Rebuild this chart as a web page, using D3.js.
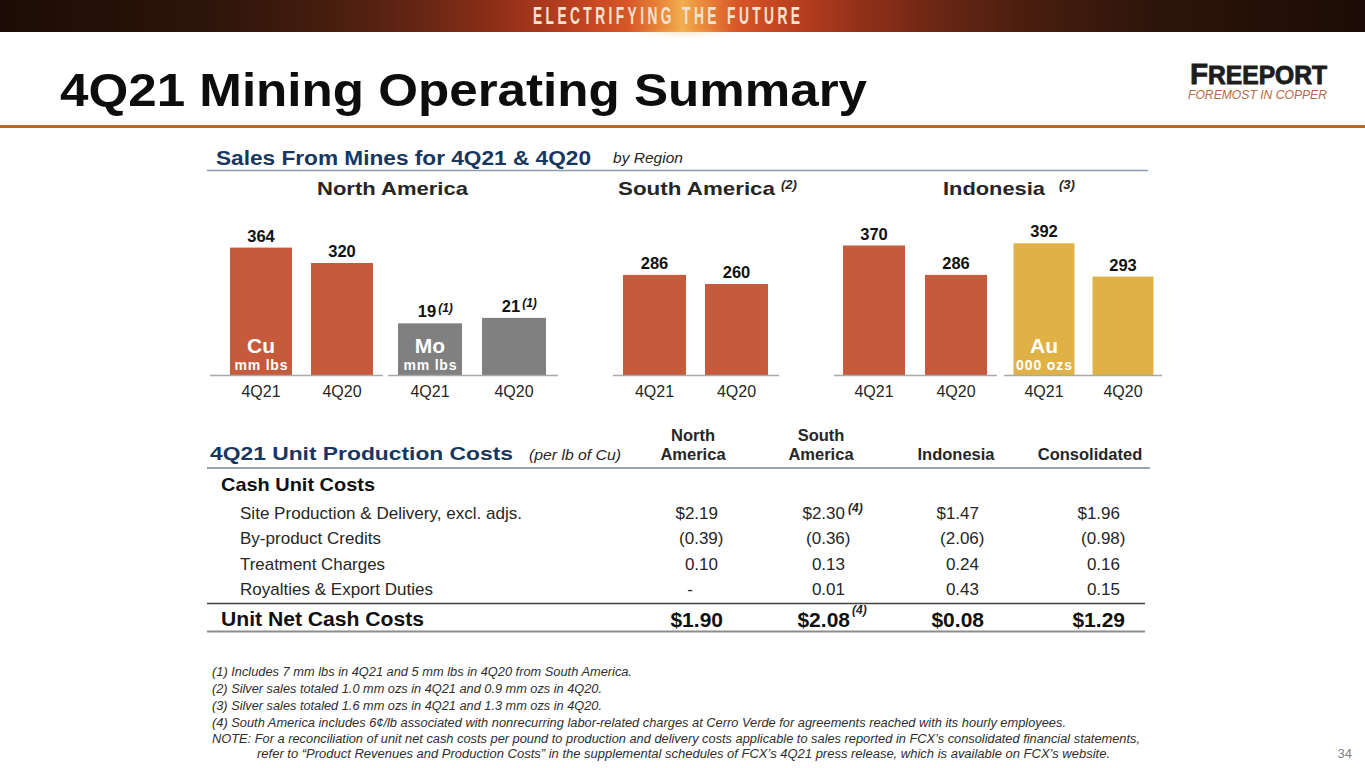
<!DOCTYPE html>
<html>
<head>
<meta charset="utf-8">
<script src="https://cdn.jsdelivr.net/npm/d3@7"></script>
<style>
  html, body { margin: 0; padding: 0; background: #fff; overflow: hidden; }
  svg { display: block; }
  text { font-family: "Liberation Sans", Arial, sans-serif; }
</style>
</head>
<body>
<svg id="chart" width="1365" height="768"></svg>
<script>
// ---------------- DATA ----------------
const periods = ["4Q21", "4Q20"];
const regionTitles = ["North America", "South America", "Indonesia"];
const regionNotes = ["", "(2)", "(3)"];
const naCopper = [364, 320];
const naMoly = [19, 21];
const saCopper = [286, 260];
const idCopper = [370, 286];
const idGold = [392, 293];

const costColumns = [["North", "America"], ["South", "America"], ["Indonesia"], ["Consolidated"]];
const costRowLabels = ["Site Production & Delivery, excl. adjs.", "By-product Credits", "Treatment Charges", "Royalties & Export Duties"];
const siteProduction = [2.19, 2.30, 1.47, 1.96];
const byproductCredits = [-0.39, -0.36, -2.06, -0.98];
const treatmentCharges = [0.10, 0.13, 0.24, 0.16];
const royaltiesDuties = [null, 0.01, 0.43, 0.15];
const unitNetCashCosts = [1.90, 2.08, 0.08, 1.29];

const footnotes = [
  "(1) Includes 7 mm lbs in 4Q21 and 5 mm lbs in 4Q20 from South America.",
  "(2) Silver sales totaled 1.0 mm ozs in 4Q21 and 0.9 mm ozs in 4Q20.",
  "(3) Silver sales totaled 1.6 mm ozs in 4Q21 and 1.3 mm ozs in 4Q20.",
  "(4) South America includes 6\u00A2/lb associated with nonrecurring labor-related charges at Cerro Verde for agreements reached with its hourly employees.",
  "NOTE: For a reconciliation of unit net cash costs per pound to production and delivery costs applicable to sales reported in FCX\u2019s consolidated financial statements,",
  "refer to \u201CProduct Revenues and Production Costs\u201D in the supplemental schedules of FCX\u2019s 4Q21 press release, which is available on FCX\u2019s website."
];

// ---------------- SETUP ----------------
const svg = d3.select("#chart");
const COPPER = "#C55B3C", MOLY = "#808080", GOLD = "#E0B245", NAVY = "#17375E", INK = "#262626";

function fit(sel, len, mode) {
  return sel.attr("textLength", len).attr("lengthAdjust", mode || "spacingAndGlyphs");
}

const defs = svg.append("defs");
const bg = defs.append("linearGradient").attr("id", "bannerGrad").attr("x1", "0").attr("x2", "1").attr("y1", "0").attr("y2", "0");
[[0, "#1C0C05"], [0.15, "#2C140A"], [0.24, "#461D0E"], [0.31, "#682614"], [0.37, "#933019"], [0.42, "#BC4020"], [0.46, "#D85628"], [0.49, "#EC9440"], [0.5, "#F2AE50"], [0.51, "#EC9440"], [0.54, "#D85628"], [0.58, "#BC4020"], [0.63, "#933019"], [0.69, "#682614"], [0.76, "#461D0E"], [0.85, "#2C140A"], [1, "#1C0C05"]]
  .forEach(([o, c]) => bg.append("stop").attr("offset", o).attr("stop-color", c));
const glow = defs.append("radialGradient").attr("id", "glow");
glow.append("stop").attr("offset", 0).attr("stop-color", "#F6C070").attr("stop-opacity", 0.8);
glow.append("stop").attr("offset", 1).attr("stop-color", "#F6C070").attr("stop-opacity", 0);

// ---------------- HEADER ----------------
svg.append("rect").attr("x", 0).attr("y", 0).attr("width", 1365).attr("height", 32).attr("fill", "url(#bannerGrad)");
svg.append("ellipse").attr("cx", 683).attr("cy", 33).attr("rx", 55).attr("ry", 5).attr("fill", "url(#glow)").attr("opacity", 0.35);
const bannerG = svg.append("g").attr("transform", "translate(533,24) scale(0.6,1)");
fit(bannerG.append("text").attr("x", 0).attr("y", 0)
  .style("font-size", "23px").style("font-weight", "bold").attr("fill", "#F4E2CF")
  .text("ELECTRIFYING THE FUTURE"), 267 / 0.6, "spacing");

fit(svg.append("text").attr("x", 60).attr("y", 106).style("font-size", "47px").style("font-weight", "bold").attr("fill", "#0D0D0D")
  .text("4Q21 Mining Operating Summary"), 807);

const logo = svg.append("text").attr("x", 1190).attr("y", 84)
  .style("font-weight", "bold").attr("fill", "#1E1E1E").attr("stroke", "#1E1E1E").attr("stroke-width", 0.9);
logo.append("tspan").style("font-size", "30px").text("F");
logo.append("tspan").style("font-size", "25px").text("REEPORT");
fit(logo, 137);
fit(svg.append("text").attr("x", 1188).attr("y", 99).style("font-size", "12.5px").style("font-style", "italic").attr("fill", "#B66A45")
  .text("FOREMOST IN COPPER"), 139);

svg.append("rect").attr("x", 0).attr("y", 125).attr("width", 1365).attr("height", 3).attr("fill", "#B3692C");

// ---------------- BAR SECTION ----------------
fit(svg.append("text").attr("x", 216).attr("y", 164.5).style("font-size", "20px").style("font-weight", "bold").attr("fill", NAVY)
  .text("Sales From Mines for 4Q21 & 4Q20"), 375);
fit(svg.append("text").attr("x", 613).attr("y", 163).style("font-size", "14px").style("font-style", "italic").attr("fill", INK)
  .text("by Region"), 70);
svg.append("line").attr("x1", 207).attr("x2", 1148).attr("y1", 170.5).attr("y2", 170.5).attr("stroke", "#8B9BB0").attr("stroke-width", 1.5);

const regionPos = [[317, 151], [618, 157], [943, 102]];
const notePos = [null, 781, 1059];
regionTitles.forEach((t, i) => {
  fit(svg.append("text").attr("x", regionPos[i][0]).attr("y", 195).style("font-size", "19px").style("font-weight", "bold").attr("fill", INK).text(t), regionPos[i][1]);
  if (regionNotes[i]) {
    svg.append("text").attr("x", notePos[i]).attr("y", 189).style("font-size", "13px").style("font-style", "italic").style("font-weight", "bold").attr("fill", INK).text(regionNotes[i]);
  }
});

const baseline = 375;
const yCopper = d3.scaleLinear().domain([0, 400]).range([baseline, baseline - 140]);
const yMoly = d3.scaleLinear().domain([0, 50]).range([baseline, baseline - 136]);
const yGold = d3.scaleLinear().domain([0, 400]).range([baseline, baseline - 134.4]);

const groups = [
  { values: naCopper, color: COPPER, y: yCopper, band: [220.5, 382.5], pad: 0.235, axis: [210, 383], tag: "Cu", unit: "mm lbs", unitLen: 53 },
  { values: naMoly, color: MOLY, y: yMoly, band: [388, 556], pad: 0.238, axis: [388, 558], tag: "Mo", unit: "mm lbs", unitLen: 53, note: "(1)" },
  { values: saCopper, color: COPPER, y: yCopper, band: [613.5, 777.5], pad: 0.232, axis: [613, 779] },
  { values: idCopper, color: COPPER, y: yCopper, band: [833, 997], pad: 0.244, axis: [834, 997] },
  { values: idGold, color: GOLD, y: yGold, band: [1004.5, 1162.5], pad: 0.228, axis: [1004, 1162], tag: "Au", unit: "000 ozs", unitLen: 56 }
];

groups.forEach(g => {
  const x = d3.scaleBand().domain(periods).range(g.band).paddingInner(g.pad).paddingOuter(g.pad / 2);
  const gg = svg.append("g");
  const data = periods.map((p, i) => ({ p, v: g.values[i] }));
  gg.selectAll("rect.bar").data(data).join("rect").attr("class", "bar")
    .attr("x", d => x(d.p)).attr("width", x.bandwidth())
    .attr("y", d => g.y(d.v)).attr("height", d => baseline - g.y(d.v))
    .attr("fill", g.color);
  gg.append("line").attr("x1", g.axis[0]).attr("x2", g.axis[1]).attr("y1", baseline + 0.5).attr("y2", baseline + 0.5)
    .attr("stroke", "#A9A9A9").attr("stroke-width", 1.5);
  const ax = d3.axisBottom(x).tickSize(0).tickPadding(0);
  const axG = gg.append("g").attr("transform", `translate(0,${baseline})`).call(ax);
  axG.select(".domain").remove();
  axG.selectAll("text").attr("dy", null).attr("y", 22).style("font-size", "16px")
    .style("font-family", "'Liberation Sans', Arial, sans-serif").attr("fill", INK);
  data.forEach(d => {
    const cx = x(d.p) + x.bandwidth() / 2;
    const lab = gg.append("text").attr("y", g.y(d.v) - 6).style("font-size", "16.5px").style("font-weight", "bold").attr("fill", "#111");
    if (g.note) {
      lab.attr("x", cx - 3).attr("text-anchor", "middle").text(d.v);
      const bb = lab.node().getBBox();
      gg.append("text").attr("x", bb.x + bb.width + 2).attr("y", g.y(d.v) - 11).style("font-size", "12px")
        .style("font-style", "italic").style("font-weight", "bold").attr("fill", "#111").text(g.note);
    } else {
      lab.attr("x", cx).attr("text-anchor", "middle").text(d.v);
    }
  });
  if (g.tag) {
    const cx = x(periods[0]) + x.bandwidth() / 2;
    gg.append("text").attr("x", cx).attr("y", 353).attr("text-anchor", "middle").style("font-size", "21px").style("font-weight", "bold").attr("fill", "#fff").text(g.tag);
    fit(gg.append("text").attr("x", cx - g.unitLen / 2).attr("y", 370).style("font-size", "14px").style("font-weight", "bold").attr("fill", "#fff").text(g.unit), g.unitLen, "spacing");
  }
});

// ---------------- TABLE ----------------
fit(svg.append("text").attr("x", 210).attr("y", 460).style("font-size", "19px").style("font-weight", "bold").attr("fill", NAVY)
  .text("4Q21 Unit Production Costs"), 303);
fit(svg.append("text").attr("x", 529).attr("y", 460).style("font-size", "14px").style("font-style", "italic").attr("fill", INK)
  .text("(per lb of Cu)"), 92);

const colCenters = [693, 821, 956, 1090];
const colRight = d3.scaleOrdinal().domain(d3.range(4)).range([718, 845, 979, 1120]);
costColumns.forEach((lines, i) => {
  lines.forEach((ln, j) => {
    svg.append("text").attr("x", colCenters[i]).attr("y", 460 - (lines.length - 1 - j) * 19).attr("text-anchor", "middle")
      .style("font-size", "16.5px").style("font-weight", "bold").attr("fill", INK).text(ln);
  });
});
svg.append("line").attr("x1", 207).attr("x2", 1150).attr("y1", 468).attr("y2", 468).attr("stroke", "#97A3B3").attr("stroke-width", 2);

fit(svg.append("text").attr("x", 221).attr("y", 491).style("font-size", "19px").style("font-weight", "bold").attr("fill", "#111")
  .text("Cash Unit Costs"), 154);

const rowWidths = [282, 141, 145, 193];
const rowSeries = [siteProduction, byproductCredits, treatmentCharges, royaltiesDuties];
const rowY = d3.scalePoint().domain(d3.range(4)).range([519, 595]);
const fmt = d3.format(".2f");
rowSeries.forEach((vals, r) => {
  fit(svg.append("text").attr("x", 240).attr("y", rowY(r)).style("font-size", "17px").attr("fill", INK).text(costRowLabels[r]), rowWidths[r]);
  vals.forEach((v, c) => {
    const t = svg.append("text").attr("y", rowY(r)).style("font-size", "17px").attr("fill", INK);
    if (v === null) {
      t.attr("x", colRight(c) - 28).attr("text-anchor", "middle").text("-");
    } else if (v < 0) {
      t.attr("x", colRight(c) + 5.5).attr("text-anchor", "end").text("(" + fmt(-v) + ")");
    } else {
      t.attr("x", colRight(c)).attr("text-anchor", "end").text((r === 0 ? "$" : "") + fmt(v));
    }
    if (r === 0 && c === 1) {
      svg.append("text").attr("x", colRight(c) + 3).attr("y", rowY(r) - 7).style("font-size", "12px").style("font-style", "italic").style("font-weight", "bold").attr("fill", INK).text("(4)");
    }
  });
});

svg.append("line").attr("x1", 207).attr("x2", 1145).attr("y1", 603.5).attr("y2", 603.5).attr("stroke", "#404040").attr("stroke-width", 1.5);
fit(svg.append("text").attr("x", 221).attr("y", 626).style("font-size", "20px").style("font-weight", "bold").attr("fill", "#111")
  .text("Unit Net Cash Costs"), 203);
unitNetCashCosts.forEach((v, c) => {
  svg.append("text").attr("x", colRight(c) + 5).attr("y", 627).attr("text-anchor", "end").style("font-size", "21px").style("font-weight", "bold").attr("fill", "#111").text("$" + fmt(v));
  if (c === 1) {
    svg.append("text").attr("x", colRight(c) + 7).attr("y", 614).style("font-size", "12px").style("font-style", "italic").style("font-weight", "bold").attr("fill", INK).text("(4)");
  }
});
svg.append("line").attr("x1", 207).attr("x2", 1145).attr("y1", 631.5).attr("y2", 631.5).attr("stroke", "#8C8C8C").attr("stroke-width", 2);

// ---------------- FOOTNOTES ----------------
const fnX = [212, 212, 212, 212, 212, 257];
const fnW = [420, 390, 390, 854, 928, 853];
const fnY = [676, 693, 710, 727, 743, 758];
footnotes.forEach((t, i) => {
  fit(svg.append("text").attr("x", fnX[i]).attr("y", fnY[i]).style("font-size", "12px").style("font-style", "italic").attr("fill", "#2E2E2E").text(t), fnW[i]);
});

svg.append("text").attr("x", 1352).attr("y", 758).attr("text-anchor", "end").style("font-size", "13px").attr("fill", "#7F7F7F").text("34");
</script>
</body>
</html>
